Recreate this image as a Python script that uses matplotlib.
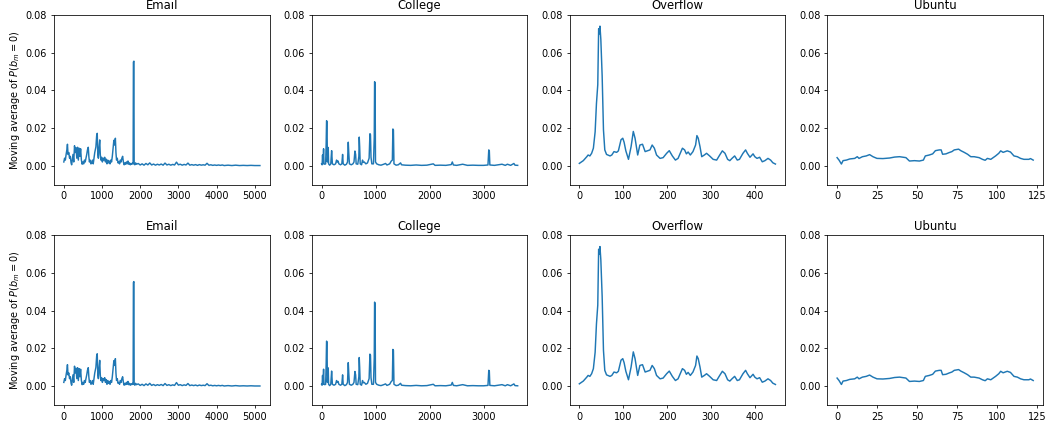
import matplotlib
matplotlib.use("Agg")
import matplotlib.pyplot as plt
from matplotlib.ticker import MultipleLocator

titles = ["Email", "College", "Overflow", "Ubuntu"]

email_x = [0, 20, 40, 60, 80, 95, 110, 130, 150, 170, 190, 205, 220, 240, 260, 280, 300, 320, 340, 360,
           380, 400, 420, 440, 460, 480, 500, 520, 540, 560, 580, 600, 620, 640, 655, 670, 690, 710, 730, 750,
           770, 790, 810, 840, 860, 875, 890, 905, 920, 940, 955, 970, 990, 1010, 1030, 1050, 1070, 1090, 1110, 1130,
           1150, 1170, 1190, 1210, 1230, 1250, 1270, 1290, 1310, 1330, 1350, 1365, 1380, 1400, 1420, 1440, 1460, 1480, 1500, 1520,
           1540, 1560, 1580, 1600, 1620, 1640, 1660, 1680, 1700, 1720, 1740, 1760, 1780, 1800, 1815, 1822, 1835, 1842, 1860, 1880,
           1900, 1950, 2000, 2050, 2100, 2150, 2200, 2250, 2300, 2350, 2400, 2450, 2500, 2550, 2600, 2650, 2700, 2750, 2800, 2850,
           2900, 2950, 3000, 3050, 3100, 3150, 3200, 3250, 3300, 3350, 3400, 3450, 3500, 3550, 3600, 3650, 3700, 3750, 3800, 3850,
           3900, 3950, 4000, 4050, 4100, 4150, 4200, 4300, 4400, 4500, 4600, 4700, 4800, 4900, 5000, 5135]
email_y = [0.002, 0.004, 0.003, 0.006, 0.0085, 0.0114, 0.006, 0.007, 0.004, 0.005, 0.0015, 0.0005, 0.003, 0.006, 0.002, 0.0106, 0.007, 0.0095, 0.004, 0.0098,
           0.003, 0.0093, 0.005, 0.009, 0.003, 0.0008, 0.002, 0.001, 0.003, 0.002, 0.004, 0.006, 0.0085, 0.0098, 0.005, 0.002, 0.003, 0.001, 0.0015, 0.003,
           0.001, 0.004, 0.007, 0.010, 0.016, 0.0172, 0.006, 0.004, 0.009, 0.0137, 0.006, 0.003, 0.0045, 0.002, 0.004, 0.003, 0.0045, 0.002, 0.0035, 0.001,
           0.003, 0.0015, 0.0025, 0.001, 0.003, 0.002, 0.005, 0.009, 0.0135, 0.011, 0.0146, 0.007, 0.003, 0.004, 0.0015, 0.002, 0.001, 0.003, 0.002, 0.004,
           0.005, 0.002, 0.0005, 0.0015, 0.0008, 0.002, 0.001, 0.0025, 0.0008, 0.0015, 0.0005, 0.0012, 0.0008, 0.0015, 0.001, 0.055, 0.0555, 0.001, 0.0005, 0.0015,
           0.0008, 0.0012, 0.0004, 0.001, 0.0003, 0.0012, 0.0005, 0.0015, 0.0004, 0.0009, 0.0003, 0.0008, 0.0004, 0.0009, 0.0003, 0.0014, 0.0004, 0.0008, 0.0003, 0.0007,
           0.0004, 0.0019, 0.0005, 0.0008, 0.0003, 0.0007, 0.0004, 0.0014, 0.0003, 0.0006, 0.0003, 0.0006, 0.0002, 0.0006, 0.0003, 0.0005, 0.0003, 0.0013, 0.0003, 0.0005,
           0.0002, 0.0004, 0.0002, 0.0004, 0.0002, 0.0004, 0.0001, 0.0003, 0.0001, 0.0003, 0.0001, 0.0002, 0.0001, 0.0002, 0.0001, 0.0001]

college_x = [0, 10, 18, 25, 37, 45, 60, 75, 85, 92, 100, 108, 123, 130, 150, 170, 186, 192, 200, 230,
             260, 277, 290, 305, 320, 350, 375, 389, 400, 430, 460, 480, 494, 503, 515, 550, 580, 600, 617, 630,
             640, 670, 690, 697, 705, 715, 740, 758, 770, 790, 820, 850, 880, 895, 905, 915, 930, 960, 975, 981,
             990, 998, 1020, 1060, 1100, 1150, 1184, 1210, 1260, 1290, 1310, 1320, 1330, 1340, 1380, 1420, 1462, 1480, 1550, 1650,
             1750, 1850, 1950, 2068, 2100, 2200, 2300, 2400, 2420, 2440, 2500, 2612, 2700, 2800, 2900, 3000, 3080, 3095, 3105, 3115,
             3200, 3340, 3400, 3440, 3500, 3560, 3580, 3630]
college_y = [0.001, 0.0005, 0.0057, 0.001, 0.009, 0.001, 0.0008, 0.001, 0.012, 0.0239, 0.0235, 0.002, 0.0097, 0.001, 0.0003, 0.001, 0.008, 0.005, 0.001, 0.0005,
             0.001, 0.003, 0.002, 0.0025, 0.001, 0.0005, 0.001, 0.006, 0.001, 0.0003, 0.0008, 0.002, 0.0125, 0.007, 0.001, 0.0005, 0.001, 0.002, 0.0078, 0.006,
             0.001, 0.0008, 0.005, 0.0152, 0.010, 0.001, 0.0005, 0.003, 0.0018, 0.002, 0.001, 0.0015, 0.004, 0.017, 0.0165, 0.0045, 0.001, 0.001, 0.015, 0.0446,
             0.044, 0.002, 0.001, 0.0005, 0.0003, 0.0008, 0.0012, 0.0004, 0.001, 0.0025, 0.003, 0.0195, 0.019, 0.001, 0.0003, 0.0005, 0.0015, 0.0005, 0.0003, 0.0002,
             0.0004, 0.0002, 0.0003, 0.001, 0.0002, 0.0003, 0.0002, 0.0006, 0.002, 0.0004, 0.0002, 0.0008, 0.0002, 0.0003, 0.0002, 0.0002, 0.0004, 0.0084, 0.008, 0.0004,
             0.0002, 0.0008, 0.0002, 0.0008, 0.0002, 0.0012, 0.0003, 0.0002]

overflow_x = [0, 9, 17, 20, 24, 28, 32, 36, 39, 42, 44, 45.5, 47, 49, 52, 55, 58, 62, 70, 74,
              79, 85, 89, 95, 99, 102, 106, 112, 118, 123, 127, 133, 138, 144, 150, 156, 161, 166, 171, 176,
              184, 191, 199, 205, 212, 219, 225, 235, 240, 244, 248, 253, 259, 265, 268, 271, 275, 279, 285, 290,
              297, 305, 313, 320, 326, 332, 338, 343, 348, 354, 360, 365, 373, 379, 383, 389, 396, 400, 405, 411,
              417, 423, 430, 436, 441, 447]
overflow_y = [0.00125, 0.0027, 0.0048, 0.0057, 0.0052, 0.0066, 0.0093, 0.018, 0.033, 0.043, 0.0727, 0.070, 0.0741, 0.067, 0.0477, 0.019, 0.0084, 0.006, 0.0052, 0.0057,
              0.0075, 0.0071, 0.0079, 0.0138, 0.0146, 0.0125, 0.0079, 0.0034, 0.0102, 0.0182, 0.0146, 0.0057, 0.011, 0.0114, 0.0075, 0.008, 0.0084, 0.011, 0.0093, 0.0057,
              0.0039, 0.0043, 0.0066, 0.008, 0.0052, 0.003, 0.0039, 0.0093, 0.0084, 0.0063, 0.0073, 0.0057, 0.0075, 0.011, 0.016, 0.0146, 0.0102, 0.0048, 0.0057, 0.0066,
              0.0052, 0.0034, 0.003, 0.0057, 0.0079, 0.0066, 0.0034, 0.0027, 0.0039, 0.0052, 0.003, 0.0034, 0.0066, 0.0084, 0.0066, 0.0045, 0.0063, 0.0048, 0.0039, 0.0045,
              0.0021, 0.0027, 0.0039, 0.003, 0.0016, 0.0009]

ubuntu_x = [0, 1.2, 2.7, 3.7, 5.8, 7.9, 11, 12.6, 13.7, 15.8, 18.2, 20.3, 22.4, 24.9, 28.6, 32.8, 35.9, 39, 43, 45.2,
            48.3, 51.4, 53.9, 55.1, 57.6, 59.7, 61.4, 63.8, 65, 65.9, 68, 70, 71.7, 73.2, 75.9, 77.3, 79.4, 81.5, 83.5, 85.6,
            88.7, 90.8, 92.5, 93.9, 96, 99, 101, 102.2, 103.7, 106.3, 108.3, 110.5, 112.6, 114.6, 116.7, 119.8, 120.8, 122.5]
ubuntu_y = [0.0043, 0.003, 0.0009, 0.0027, 0.003, 0.0036, 0.0039, 0.0048, 0.0039, 0.0048, 0.0052, 0.0059, 0.0048, 0.0039, 0.0038, 0.0041, 0.0046, 0.0048, 0.0043, 0.0025,
            0.0027, 0.0025, 0.003, 0.0052, 0.0057, 0.0063, 0.008, 0.0084, 0.0084, 0.0061, 0.0063, 0.007, 0.0075, 0.0084, 0.0088, 0.008, 0.0071, 0.0061, 0.0048, 0.0048,
            0.0043, 0.0034, 0.0029, 0.0039, 0.0034, 0.0052, 0.0066, 0.0079, 0.0071, 0.0079, 0.0073, 0.0052, 0.0048, 0.0039, 0.0034, 0.0034, 0.0038, 0.003]

series = [(email_x, email_y), (college_x, college_y), (overflow_x, overflow_y), (ubuntu_x, ubuntu_y)]
yticks = [0.00, 0.02, 0.04, 0.06, 0.08]
xstep = [1000, 1000, 100, 25]

fig, axes = plt.subplots(2, 4, figsize=(1053 / 70, 434 / 70), dpi=70)
fig.subplots_adjust(left=0.0513, right=0.9905, top=0.9654, bottom=0.0668, wspace=0.195, hspace=0.30)

for row in range(2):
    for col in range(4):
        ax = axes[row, col]
        xs, ys = series[col]
        ax.plot(xs, ys, color="tab:blue", linewidth=1.5)
        ax.set_ylim(-0.01, 0.08)
        ax.set_yticks(yticks)
        ax.xaxis.set_major_locator(MultipleLocator(xstep[col]))
        ax.set_title(titles[col])
        if col == 0:
            ax.set_ylabel("Moving average of $P(b_m = 0)$")

fig.savefig("out.png", dpi=70)
